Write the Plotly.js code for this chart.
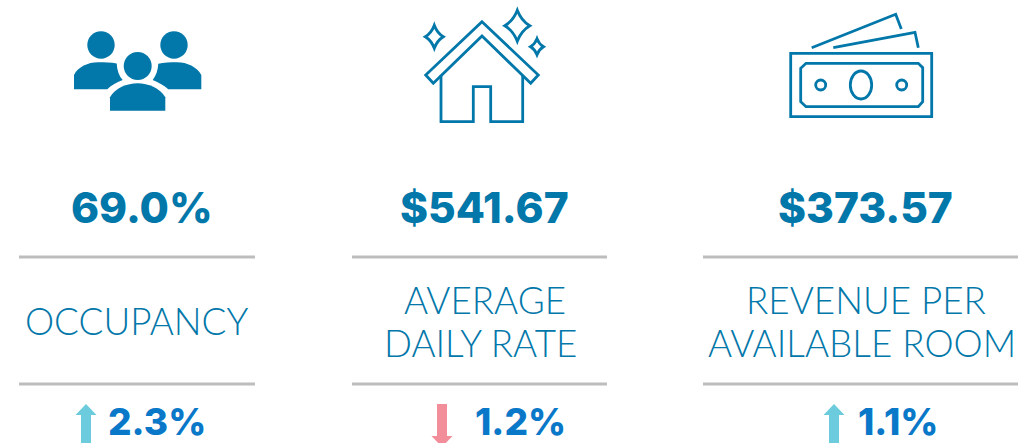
<!DOCTYPE html>
<html><head><meta charset="utf-8">
<script src="https://cdn.plot.ly/plotly-3.0.1.min.js"></script>
<style>html,body{margin:0;padding:0;background:#fff}#c{width:1033px;height:443px}</style>
</head><body><div id="c"></div>
<script>
const metrics = ["69.0%", "$541.67", "$373.57"];
const metricLabels = [["OCCUPANCY"], ["AVERAGE","DAILY RATE"], ["REVENUE PER","AVAILABLE ROOM"]];
const changes = ["2.3%", "1.2%", "1.1%"];
const directions = ["up", "down", "up"];

const BLUE="#0277A9", CHG="#0A78C8", UP="#6CCBDC", DOWN="#F18E99", RULE="#BDBDBD";
const metricX=[142,484.5,865.5], changeX=[157,520.5,897.5], arrowX=[86,442,834];
const labelX=[[136.5],[484.5,480],[865.5,861.5]], labelY=[[320.5],[299.5,343],[299.5,343]];
const rules=[[19,255],[352,607],[703,1018]];

const shapes=[];
const fill=(path,c)=>shapes.push({type:"path",path,fillcolor:c,line:{width:0},layer:"above"});
const stroke=(path,w=2.8)=>shapes.push({type:"path",path,line:{color:BLUE,width:w},fillcolor:"rgba(0,0,0,0)"});
const circ=(cx,cy,rx,ry)=>`M${cx-rx},${cy} C${cx-rx},${cy-ry*0.552} ${cx-rx*0.552},${cy-ry} ${cx},${cy-ry} C${cx+rx*0.552},${cy-ry} ${cx+rx},${cy-ry*0.552} ${cx+rx},${cy} C${cx+rx},${cy+ry*0.552} ${cx+rx*0.552},${cy+ry} ${cx},${cy+ry} C${cx-rx*0.552},${cy+ry} ${cx-rx},${cy+ry*0.552} ${cx-rx},${cy} Z`;
const spark=(cx,cy,hx,hy)=>{const k=0.32;return `M${cx},${cy-hy} Q${cx+hx*k},${cy-hy*k} ${cx+hx},${cy} Q${cx+hx*k},${cy+hy*k} ${cx},${cy+hy} Q${cx-hx*k},${cy+hy*k} ${cx-hx},${cy} Q${cx-hx*k},${cy-hy*k} ${cx},${cy-hy} Z`;};

// people icon
fill(circ(101,45,13.7,13.7),BLUE); fill(circ(174,45,13.7,13.7),BLUE); fill(circ(137.7,66,14,14),BLUE);
fill("M74,89.3 L74,75 C78,67 88,62.3 98,62.3 C105,62.3 111,62.5 116.7,63.5 C117,70 119,76 122.7,80 C116,82.5 111,85.5 107.3,89.3 Z",BLUE);
fill("M201.3,89.3 L201.3,75 C197,67 187,62.3 177,62.3 C170,62.3 164,62.5 158.3,63.8 C158,70 156,76 152.7,80 C159,82.5 164,85.5 168.3,89.3 Z",BLUE);
fill("M110,110.7 L110,97.3 C115,88 127,83.3 137.7,83.3 C148,83.3 160,88 165.3,97.3 L165.3,110.7 Z",BLUE);

// house icon
stroke("M482,21.7 L538.3,75 L530.7,83.3 L482,36 L433.3,83.3 L425.7,75 Z");
stroke("M441,75 L441,121.7 L473.3,121.7 L473.3,86.7 L490.7,86.7 L490.7,121.7 L522.7,121.7 L522.7,75");
stroke(spark(434.3,36.7,9,11.5)); stroke(spark(517.3,25.7,12.5,15.5)); stroke(spark(537,46.7,6.5,8));

// money icon
stroke("M790.7,53.3 L931.7,53.3 L931.7,116.7 L790.7,116.7 Z");
stroke("M806,63.3 L918.3,63.3 L922.7,67.7 L922.7,101.7 L918.3,106.7 L806,106.7 L800.7,101.7 L800.7,68.3 Z");
stroke(circ(861,85,10.7,14)); stroke(circ(820.7,85,5,5)); stroke(circ(901.7,85,5,5));
stroke("M811.7,47.7 L895.7,14.3 L901.3,29"); stroke("M833.3,47.7 L915,32.3 L918.3,47.7");

// rules
rules.forEach(r=>[257,384].forEach(y=>shapes.push({type:"line",x0:r[0],x1:r[1],y0:y,y1:y,line:{color:RULE,width:3}})));

// arrows
directions.forEach((d,i)=>{const x=arrowX[i];
  if(d==="up") fill(`M${x},404 L${x+10.5},415 L${x+5},415 L${x+5},446 L${x-5},446 L${x-5},415 L${x-10.5},415 Z`,UP);
  else fill(`M${x-5},404 L${x+5},404 L${x+5},436 L${x+10.5},436 L${x},447 L${x-10.5},436 L${x-5},436 Z`,DOWN);
});

const annotations=[];
const note=(text,x,y,size,color,weight,family)=>annotations.push({text,x,y,xref:"x",yref:"y",showarrow:false,xanchor:"center",yanchor:"middle",align:"center",
  font:{family,size,color,weight}});
metrics.forEach((t,i)=>note(t,metricX[i],207.5,42.5,BLUE,800,"Inter, sans-serif"));
metricLabels.forEach((ls,i)=>ls.forEach((t,j)=>note(t,labelX[i][j],labelY[i][j],36.8,BLUE,300,"Lato, sans-serif")));
changes.forEach((t,i)=>note(t,changeX[i],421,37,CHG,800,"Inter, sans-serif"));

Plotly.newPlot("c",[{x:[0],y:[0],type:"scatter",mode:"markers",marker:{opacity:0},hoverinfo:"skip",showlegend:false}],{
  width:1033,height:443,margin:{l:0,r:0,t:0,b:0},paper_bgcolor:"#fff",plot_bgcolor:"#fff",showlegend:false,
  xaxis:{range:[0,1033],visible:false,fixedrange:true},
  yaxis:{range:[443,0],visible:false,fixedrange:true},
  shapes,annotations
},{displayModeBar:false,staticPlot:true});
</script></body></html>
